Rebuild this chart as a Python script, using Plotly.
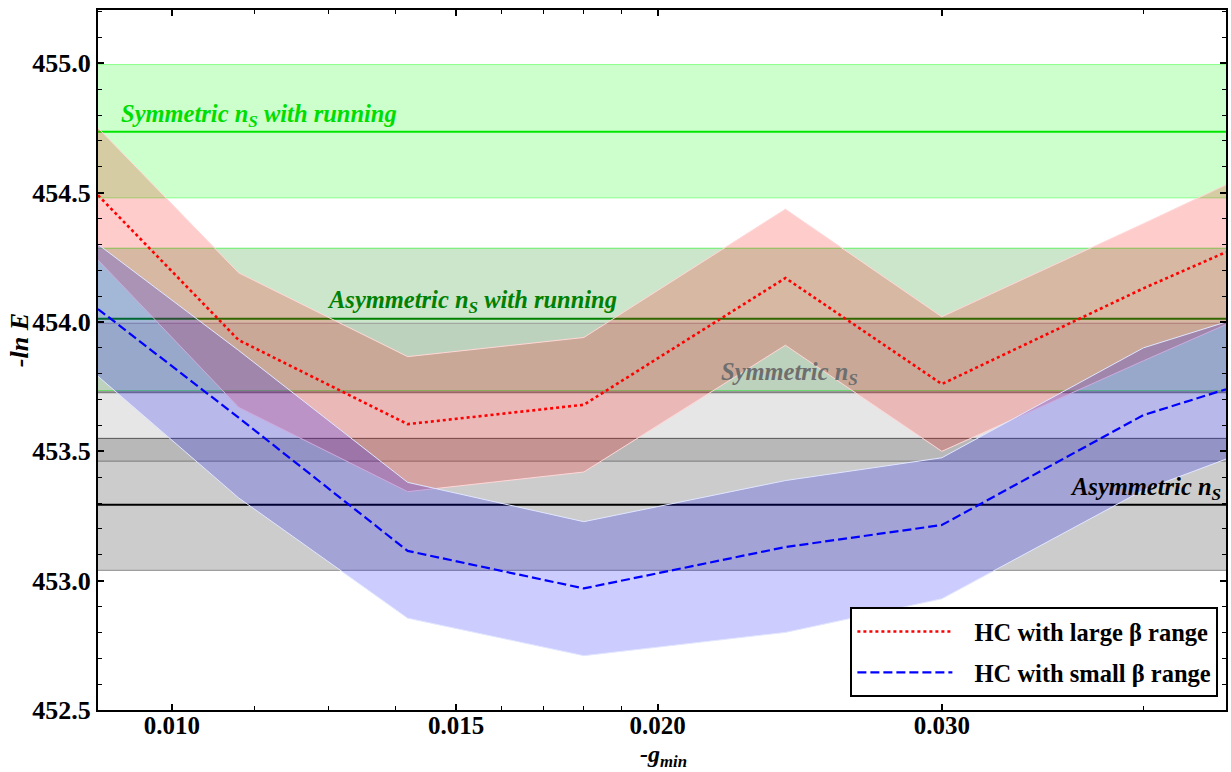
import math
import plotly.graph_objects as go

# ---------------- data ----------------
g_min = [0.009, 0.011, 0.014, 0.018, 0.024, 0.030, 0.040, 0.045]

large_center = [454.49, 453.93, 453.605, 453.68, 454.17, 453.76, 454.13, 454.27]
large_upper = [454.75, 454.19, 453.866, 453.94, 454.436, 454.02, 454.38, 454.53]
large_lower = [454.24, 453.67, 453.344, 453.42, 453.91, 453.50, 453.85, 453.99]

small_center = [454.05, 453.63, 453.115, 452.97, 453.13, 453.215, 453.64, 453.74]
small_upper = [454.30, 453.89, 453.38, 453.228, 453.387, 453.475, 453.90, 454.00]
small_lower = [453.79, 453.32, 452.855, 452.71, 452.80, 452.93, 453.35, 453.47]

# reference models: (label, mean, lower, upper)
ref_names = ["Symmetric n<sub>S</sub> with running", "Asymmetric n<sub>S</sub> with running",
             "Symmetric n<sub>S</sub>", "Asymmetric n<sub>S</sub>"]
ref_mean = [454.735, 454.012, 453.728, 453.293]
ref_low = [454.48, 453.735, 453.462, 453.04]
ref_high = [454.995, 454.285, 453.995, 453.55]

x_ticks = [0.010, 0.015, 0.020, 0.030]
x_tick_text = ["0.010", "0.015", "0.020", "0.030"]
x_minor = [0.01125, 0.0125, 0.01375, 0.016, 0.017, 0.018, 0.019, 0.040]

legend_names = ["\u2002\u2009HC with large \u03b2 range", "\u2002\u2009HC with small \u03b2 range"]

# ---------------- styles ----------------
FONT = "Liberation Serif"
ref_fill = ["rgba(0,255,0,0.2)", "rgba(0,128,0,0.2)", "rgba(128,128,128,0.2)", "rgba(0,0,0,0.2)"]
ref_line = ["#00e600", "#008000", "#808080", "#000000"]
ref_edge = [["#88ff88", "#88ff88"], ["#66ee66", "#66ee66"], ["#9a9a9a", "#9a9a9a"], ["#8a8a8a", "#555555"]]
ref_text = ["#00dd00", "#008000", "#6e6e6e", "#000000"]
ref_label_pos = [(0.01132, 454.80), (0.01534, 454.08), (0.02413, 453.80), (0.0401, 453.355)]

fig = go.Figure()

# horizontal reference bands
for i in range(4):
    fig.add_hrect(y0=ref_low[i], y1=ref_high[i], fillcolor=ref_fill[i], line_width=0, layer="below")
    fig.add_hline(y=ref_low[i], line=dict(color=ref_edge[i][0], width=1), layer="below")
    fig.add_hline(y=ref_high[i], line=dict(color=ref_edge[i][1], width=1), layer="below")
for i in range(4):
    fig.add_hline(y=ref_mean[i], line=dict(color=ref_line[i], width=2), layer="below")

# HC bands
fig.add_trace(go.Scatter(x=g_min, y=large_lower, mode="lines",
                         line=dict(color="rgba(255,215,215,1)", width=1),
                         showlegend=False, hoverinfo="skip"))
fig.add_trace(go.Scatter(x=g_min, y=large_upper, mode="lines", fill="tonexty",
                         fillcolor="rgba(255,0,0,0.2)",
                         line=dict(color="rgba(255,215,215,1)", width=1),
                         showlegend=False, hoverinfo="skip"))
fig.add_trace(go.Scatter(x=g_min, y=small_lower, mode="lines",
                         line=dict(color="rgba(225,230,255,1)", width=1),
                         showlegend=False, hoverinfo="skip"))
fig.add_trace(go.Scatter(x=g_min, y=small_upper, mode="lines", fill="tonexty",
                         fillcolor="rgba(0,0,255,0.2)",
                         line=dict(color="rgba(225,230,255,1)", width=1),
                         showlegend=False, hoverinfo="skip"))

# central lines
fig.add_trace(go.Scatter(x=g_min, y=large_center, mode="lines", name=legend_names[0],
                         legendgroup="a",
                         line=dict(color="#ff0000", width=2.6, dash="3px,3px")))
fig.add_trace(go.Scatter(x=g_min, y=small_center, mode="lines", name=legend_names[1],
                         legendgroup="b",
                         line=dict(color="#0000ff", width=2.2, dash="9px,4px")))

# labels of reference models
for i in range(4):
    fig.add_annotation(x=math.log10(ref_label_pos[i][0]), y=ref_label_pos[i][1],
                       text=ref_names[i], showarrow=False, xanchor="center", yanchor="middle",
                       font=dict(family=FONT, size=24.5, color=ref_text[i], weight="bold", style="italic"))

# axis titles
fig.add_annotation(xref="paper", yref="paper", x=-0.069, y=0.5286, text="-ln E",
                   textangle=-90, showarrow=False, xanchor="center", yanchor="middle",
                   font=dict(family=FONT, size=26, color="black", weight="bold", style="italic"))
fig.add_annotation(xref="paper", yref="paper", x=0.501, y=-0.0655, text="-g<sub>min</sub>",
                   showarrow=False, xanchor="center", yanchor="middle",
                   font=dict(family=FONT, size=24, color="black", weight="bold", style="italic"))

fig.update_layout(
    width=1231, height=772,
    margin=dict(l=98, r=3, t=10, b=62),
    plot_bgcolor="white", paper_bgcolor="white",
    showlegend=True,
    legend=dict(x=0.667, y=0.147, xanchor="left", yanchor="top",
                bgcolor="white", bordercolor="black", borderwidth=2,
                font=dict(family=FONT, size=24.5, color="black", weight="bold"),
                itemwidth=95, tracegroupgap=6, traceorder="grouped"),
    xaxis=dict(type="log", range=[math.log10(0.009), math.log10(0.045)],
               tickmode="array", tickvals=x_ticks, ticktext=x_tick_text,
               ticks="inside", ticklen=6, tickwidth=1.5, tickcolor="black",
               showline=True, linecolor="black", linewidth=2, mirror="ticks",
               showgrid=False, zeroline=False, ticklabelstandoff=-8,
               tickfont=dict(family=FONT, size=25, color="black", weight="bold"),
               minor=dict(tickmode="array", tickvals=x_minor, ticks="inside", ticklen=4,
                          tickwidth=1, tickcolor="black", showgrid=False)),
    yaxis=dict(range=[452.5, 455.206], tickmode="linear", tick0=452.5, dtick=0.5,
               tickformat=".1f",
               ticks="inside", ticklen=6, tickwidth=1.5, tickcolor="black",
               showline=True, linecolor="black", linewidth=2, mirror="ticks",
               showgrid=False, zeroline=False,
               tickfont=dict(family=FONT, size=26, color="black", weight="bold"),
               minor=dict(dtick=0.1, tick0=452.5, ticks="inside", ticklen=4,
                          tickwidth=1, tickcolor="black", showgrid=False)),
)

fig.write_html("out.html")
